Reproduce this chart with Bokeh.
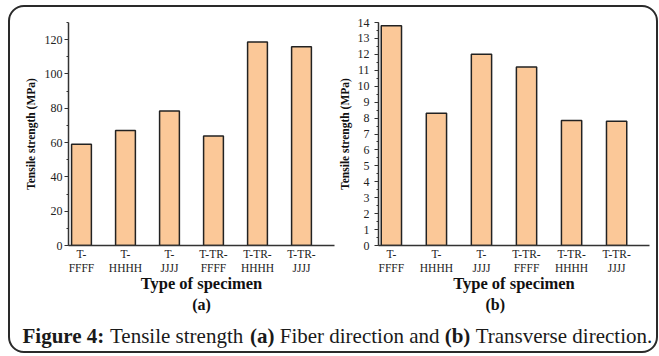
from bokeh.plotting import figure
from bokeh.layouts import column, row
from bokeh.models import Label, Title, FixedTicker, SingleIntervalTicker, Range1d, ColumnDataSource
from bokeh.embed import file_html
from bokeh.resources import INLINE

# ---- data ----
categories = ["T-\nFFFF", "T-\nHHHH", "T-\nJJJJ", "T-TR-\nFFFF", "T-TR-\nHHHH", "T-TR-\nJJJJ"]
positions = [1, 2, 3, 4, 5, 6]
fiber_strength = [59.0, 67.0, 78.4, 63.8, 118.7, 115.8]        # (a) MPa
transverse_strength = [13.8, 8.3, 12.0, 11.2, 7.85, 7.8]       # (b) MPa
y_title = "Tensile strength (MPa)"
x_title = "Type of specimen"

SERIF = "Liberation Serif"
FILL = "#FBC898"
EDGE = "#222222"
AXIS = "#333333"


def make_panel(values, y_end, interval, x_start, x_end, width, bl, br,
               tick_standoff, label_standoff, letter, letter_align, letter_offset):
    p = figure(width=width, height=311,
               x_range=Range1d(x_start, x_end), y_range=Range1d(0, y_end),
               output_backend="svg", toolbar_location=None,
               min_border_left=bl, min_border_right=br,
               min_border_top=15, min_border_bottom=73)
    p.background_fill_color = None
    p.border_fill_color = None
    p.outline_line_color = None
    p.xgrid.visible = False
    p.ygrid.visible = False
    src = ColumnDataSource(dict(x=positions, top=values))
    p.vbar(x="x", top="top", width=0.45, bottom=0, source=src,
           fill_color=FILL, line_color=EDGE, line_width=1.5)

    xa = p.xaxis[0]
    xa.ticker = FixedTicker(ticks=positions)
    xa.major_label_overrides = {pos: lab for pos, lab in zip(positions, categories)}
    xa.major_tick_out = 0
    xa.major_tick_in = 0
    xa.minor_tick_out = 0
    xa.minor_tick_in = 0
    xa.axis_line_color = AXIS
    xa.axis_line_width = 1.5
    xa.major_label_text_font = SERIF
    xa.major_label_text_font_size = "11.5px"
    xa.major_label_text_color = "#222222"
    xa.major_label_standoff = 2
    xa.axis_label = x_title
    xa.axis_label_text_font = SERIF
    xa.axis_label_text_font_style = "bold"
    xa.axis_label_text_font_size = "16.5px"
    xa.axis_label_text_color = "#111111"
    xa.axis_label_standoff = -3

    ya = p.yaxis[0]
    ya.ticker = SingleIntervalTicker(interval=interval, num_minor_ticks=2)
    ya.major_tick_out = 4
    ya.major_tick_in = 0
    ya.minor_tick_out = 2
    ya.minor_tick_in = 0
    ya.major_tick_line_color = AXIS
    ya.minor_tick_line_color = AXIS
    ya.axis_line_color = AXIS
    ya.axis_line_width = 1.5
    ya.major_label_text_font = SERIF
    ya.major_label_text_font_size = "12px"
    ya.major_label_text_color = "#222222"
    ya.major_label_standoff = tick_standoff
    ya.axis_label = y_title
    ya.axis_label_text_font = SERIF
    ya.axis_label_text_font_style = "bold"
    ya.axis_label_text_font_size = "11.5px"
    ya.axis_label_text_color = "#111111"
    ya.axis_label_standoff = label_standoff

    p.add_layout(Title(text=letter, align=letter_align, offset=letter_offset,
                       standoff=-4, text_font=SERIF, text_font_style="bold",
                       text_font_size="16px", text_color="#111111"), "below")
    return p


p1 = make_panel(fiber_strength, 130, 20, 0.705, 6.75, 325, 58, 1, 2, 5, "(a)", "center", 0)
p2 = make_panel(transverse_strength, 14, 1, 0.714, 6.73, 321, 41, 7, 5, 4, "(b)", "left", 107)

# caption
cap = figure(width=646, height=33, x_range=Range1d(0, 1), y_range=Range1d(0, 1),
             output_backend="svg", toolbar_location=None,
             min_border=0)
cap.axis.visible = False
cap.xgrid.visible = False
cap.ygrid.visible = False
cap.outline_line_color = None
cap.background_fill_color = None
cap.border_fill_color = None
cap.scatter([0.5], [0.5], size=0, alpha=0)

pieces = [("Figure 4:", "bold", 12.0),
          ("Tensile strength", "normal", 99.5),
          ("(a)", "bold", 239.4),
          ("Fiber direction and", "normal", 269.2),
          ("(b)", "bold", 434.2),
          ("Transverse direction.", "normal", 465.2)]
for txt, style, xpos in pieces:
    cap.add_layout(Label(x=xpos, y=16, x_units="screen", y_units="screen",
                         text=txt, text_align="left", text_baseline="middle",
                         text_font=SERIF, text_font_style=style,
                         text_font_size="21px", text_color="#1a1a1a"))

layout = column(row(p1, p2), cap, margin=(5, 0, 0, 8),
                styles={"border": "2px solid #2a2a2a", "border-radius": "16px"})

open("out.html", "w").write(file_html(layout, INLINE))
